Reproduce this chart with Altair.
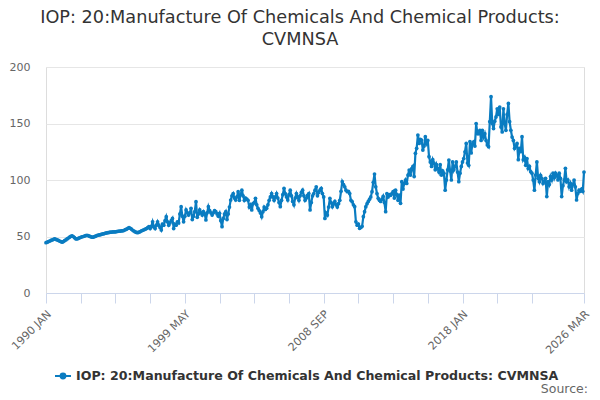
import altair as alt
import pandas as pd

TITLE = ["IOP: 20:Manufacture Of Chemicals And Chemical Products:", "CVMNSA"]
SERIES = "IOP: 20:Manufacture Of Chemicals And Chemical Products: CVMNSA"
SOURCE = "Source:"
START_YEAR = 1990
MONTHS = ["JAN", "FEB", "MAR", "APR", "MAY", "JUN", "JUL", "AUG", "SEP", "OCT", "NOV", "DEC"]

v1990 = [44.5, 45, 45.5, 46, 46.5, 47, 47.5, 47.8, 47.5, 47, 46.5, 46]
v1991 = [45.5, 45, 45.5, 46.3, 47, 47.8, 48.6, 49.4, 50.2, 50.6, 50, 49]
v1992 = [48, 47.8, 48.3, 48.8, 49.3, 49.7, 50, 50.4, 50.8, 51, 50.8, 50.3]
v1993 = [49.8, 49.4, 49.4, 49.8, 50.3, 50.8, 51.2, 51.4, 51.6, 52, 52.3, 52.6]
v1994 = [52.9, 53.2, 53.4, 53.6, 53.8, 53.9, 54, 54, 54.2, 54.4, 54.6, 54.8]
v1995 = [54.8, 55, 55, 55.5, 56, 56.5, 57.2, 57.8, 57.3, 56.5, 55.5, 54.8]
v1996 = [54, 53.6, 53.4, 53.8, 54.4, 55, 55.5, 55.9, 56.5, 57, 57.8, 58.7]
v1997 = [57, 59, 63, 58.5, 57, 60, 63, 60, 58, 55.8, 61, 60]
v1998 = [64, 67.5, 63, 60, 62, 64, 66, 57, 61, 60, 63, 62]
v1999 = [70, 76.4, 68, 63, 68, 73.5, 71, 69, 71, 75, 65, 68]
v2000 = [72, 80.8, 67, 70, 73.5, 71, 69, 72, 70, 64.6, 71, 76.4]
v2001 = [73, 71, 69, 71, 73, 72, 70, 68, 70.5, 64, 58.7, 66]
v2002 = [70, 72, 65, 70, 76, 82.3, 86, 88, 84, 82.3, 85, 89.7]
v2003 = [82, 87, 91, 86, 82, 84, 83, 82, 76, 78, 73.5, 79]
v2004 = [80, 83.8, 78, 75, 73, 70.8, 67.5, 72, 76, 74, 75, 78]
v2005 = [82, 85, 88, 85, 82, 85, 88, 84, 80, 76.4, 82, 87]
v2006 = [92.6, 88, 85, 82.3, 87, 91, 86, 81, 78, 84, 88, 85]
v2007 = [82, 86, 89, 91, 86, 82, 84, 86.5, 88, 73.5, 80, 86]
v2008 = [88, 91, 94, 86, 89, 91, 92.6, 88, 85, 66, 70.8, 69]
v2009 = [76, 83.8, 80, 76.4, 79, 81, 78, 76, 79, 82, 90, 98.5]
v2010 = [96, 94, 91, 89.7, 90, 88, 82, 80.8, 78, 76.4, 63, 60]
v2011 = [61, 57.2, 58, 59, 67.5, 72, 76.4, 79, 81, 83, 85, 89.7]
v2012 = [98, 105.3, 94, 88, 83.8, 82, 81, 83, 85.5, 80, 72, 88]
v2013 = [85, 87, 86.5, 88, 89.7, 84, 91, 87, 82, 86.7, 79.4, 98.5]
v2014 = [92, 97, 100, 97, 104.4, 108.8, 104.4, 110, 112, 103, 123.6, 128]
v2015 = [139.8, 132.4, 136, 135.4, 126.5, 130, 138.3, 132.4, 135, 120.6, 116, 112]
v2016 = [118, 115, 109, 113.6, 110, 107, 113.6, 104.4, 108, 106, 91, 100]
v2017 = [109, 117.7, 108, 100, 116, 109, 112, 116, 107, 98.5, 106, 112]
v2018 = [116, 119, 125, 132.4, 115, 113, 134, 124, 132, 133.7, 130, 150]
v2019 = [141, 141, 144, 135, 144, 138, 141, 135, 131, 129.5, 151.6, 173.7]
v2020 = [150, 145.5, 152, 155.8, 163, 158, 164.6, 147, 142.5, 163, 150, 144]
v2021 = [158, 167.8, 151.6, 144, 138, 135, 128, 130, 132.4, 118, 128, 125]
v2022 = [138.3, 118, 120, 113, 119, 110.2, 112, 107.4, 106, 100, 91, 104.4]
v2023 = [116, 101.5, 98.5, 104, 101.5, 97, 99, 101.5, 85.3, 98.5, 96, 103]
v2024 = [100, 106, 102, 106, 104, 100, 106, 101.5, 85.3, 95, 100, 110.3]
v2025 = [98.5, 100, 94, 97, 91, 96, 100, 94, 82.3, 88, 91, 90]
v2026 = [92, 90, 107]

years = [v1990, v1991, v1992, v1993, v1994, v1995, v1996, v1997, v1998, v1999,
         v2000, v2001, v2002, v2003, v2004, v2005, v2006, v2007, v2008, v2009,
         v2010, v2011, v2012, v2013, v2014, v2015, v2016, v2017, v2018, v2019,
         v2020, v2021, v2022, v2023, v2024, v2025, v2026]

tick_labels = ["1990 JAN", "1999 MAY", "2008 SEP", "2018 JAN", "2026 MAR"]
y_ticks = [0, 50, 100, 150, 200]

rows = []
for yi, vals in enumerate(years):
    for mi, v in enumerate(vals):
        rows.append({"m": yi * 12 + mi,
                     "label": f"{START_YEAR + yi} {MONTHS[mi]}",
                     "value": v,
                     "series": SERIES})
df = pd.DataFrame(rows)
last = int(df["m"].max())


def lab_to_m(s):
    y, mo = s.split(" ")
    return (int(y) - START_YEAR) * 12 + MONTHS.index(mo)


label_ms = [lab_to_m(s) for s in tick_labels]
step = (label_ms[1] - label_ms[0]) // 4
tick_vals = list(range(0, last - step // 2, step))
if last not in tick_vals:
    tick_vals.append(last)

expr = "''"
for mm, s in zip(reversed(label_ms), reversed(tick_labels)):
    expr = f"(datum.value == {mm} ? '{s}' : {expr})"

BLUE = "#0a7cc1"
FONT = "DejaVu Sans"

x_enc = alt.X("m:Q", scale=alt.Scale(domain=[0, last], nice=False, zero=False),
              axis=alt.Axis(values=tick_vals, tickCount=len(tick_vals) + 4,
                            labelExpr=expr, title=None, grid=False,
                            domainColor="#ccd6eb", tickColor="#ccd6eb", tickSize=10,
                            labelAngle=315, labelAlign="right", labelBaseline="top",
                            labelPadding=5, labelOffset=-1, labelFontSize=11,
                            labelColor="#666666",
                            labelFont=FONT, labelOverlap=False, labelBound=False,
                            labelFlush=False))
y_enc = alt.Y("value:Q", scale=alt.Scale(domain=[0, 200], nice=False),
              axis=alt.Axis(values=y_ticks, title=None, domain=False, ticks=False,
                            gridColor="#e6e6e6", labelPadding=16, labelFontSize=11,
                            labelColor="#666666", labelFont=FONT))

sym = "M-1,0L1,0M-0.3,0A0.3,0.3,0,1,1,0.3,0A0.3,0.3,0,1,1,-0.3,0Z"

line = alt.Chart(df).mark_line(strokeWidth=2.2).encode(
    x=x_enc, y=y_enc,
    color=alt.Color("series:N", scale=alt.Scale(range=[BLUE]),
                    legend=alt.Legend(orient="none", legendX=8, legendY=300, title=None,
                                      symbolType=sym, symbolSize=256,
                                      symbolStrokeWidth=2, symbolFillColor=BLUE,
                                      symbolStrokeColor=BLUE,
                                      labelFont=FONT, labelFontSize=12.6,
                                      labelFontWeight="bold", labelColor="#333333",
                                      labelLimit=600, labelOffset=4)))
pts = alt.Chart(df).mark_circle(size=14, color=BLUE, opacity=1).encode(
    x=alt.X("m:Q"), y=alt.Y("value:Q"))

title1 = alt.Chart(pd.DataFrame({"t": [TITLE[0]]})).mark_text(
    font=FONT, fontSize=17.7, color="#333333", align="center", baseline="middle").encode(
    text="t:N", x=alt.value(254), y=alt.value(-49))
title2 = alt.Chart(pd.DataFrame({"t": [TITLE[1]]})).mark_text(
    font=FONT, fontSize=17.7, color="#333333", align="center", baseline="middle").encode(
    text="t:N", x=alt.value(254), y=alt.value(-27))

src = alt.Chart(pd.DataFrame({"t": [SOURCE]})).mark_text(
    font=FONT, fontSize=12.5, color="#666666", align="right", baseline="middle").encode(
    text="t:N", x=alt.value(542), y=alt.value(322))

chart = alt.layer(line, pts, title1, title2, src).properties(
    width=538, height=226,
    padding={"left": 38, "top": 59, "right": 8, "bottom": 103},
    autosize=alt.AutoSizeParams(type="none"),
).configure_view(stroke=None).configure(background="white")

chart.save("out.html", embed_options={"renderer": "svg", "actions": False})
